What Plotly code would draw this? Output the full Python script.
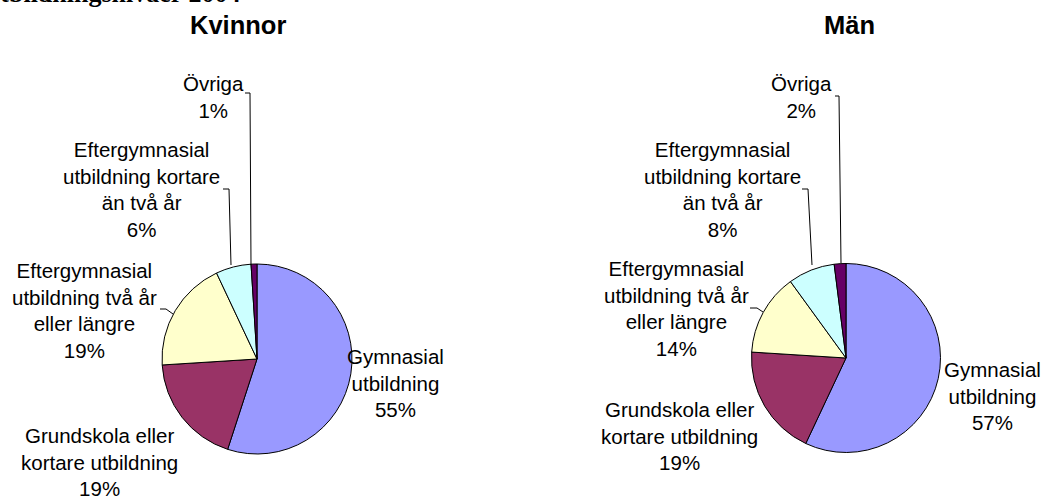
import plotly.graph_objects as go

# ---- data ----
categories = [
    "Gymnasial utbildning",
    "Grundskola eller kortare utbildning",
    "Eftergymnasial utbildning två år eller längre",
    "Eftergymnasial utbildning kortare än två år",
    "Övriga",
]
label_lines = [
    "Gymnasial<br>utbildning",
    "Grundskola eller<br>kortare utbildning",
    "Eftergymnasial<br>utbildning två år<br>eller längre",
    "Eftergymnasial<br>utbildning kortare<br>än två år",
    "Övriga",
]
kvinnor = [55, 19, 19, 6, 1]
man = [57, 19, 14, 8, 2]
colors = ["#9999FF", "#993366", "#FFFFCC", "#CCFFFF", "#660066"]
panel_titles = ["Kvinnor", "Män"]
main_title = "Befolkningen efter utbildningsnivåer 2004"

W, H = 1044, 499
FONT = "Liberation Sans, Arial, sans-serif"


def px(x):
    return x / W


def py(y):
    return 1 - y / H


def dom(cx, cy, r):
    return dict(x=[px(cx - r), px(cx + r)], y=[py(cy + r), py(cy - r)])


fig = go.Figure()
pies = [(kvinnor, (257, 359, 95)), (man, (846, 358, 94.5))]
for vals, (cx, cy, r) in pies:
    fig.add_trace(go.Pie(
        labels=categories, values=vals, sort=False, direction="clockwise",
        rotation=0, marker=dict(colors=colors, line=dict(color="black", width=1)),
        textinfo="none", hoverinfo="skip", showlegend=False,
        domain=dom(cx, cy, r),
    ))

# label centres (pixels) per panel, in category order
label_pos = [
    [(395, 383), (99, 462), (85, 310), (141, 190), (213, 97)],
    [(992, 396), (680, 436), (676, 308), (722, 190), (801, 97)],
]
leaders = [
    [None, None,
     [(160, 309), (166, 309), (173, 314)],
     [(223, 189), (229, 189), (231, 265)],
     [(245, 93), (250, 93), (251, 265)]],
    [None, None,
     [(750, 308), (757, 308), (763, 312)],
     [(802, 189), (808, 189), (812, 265)],
     [(835, 96), (839, 96), (841, 263)]],
]

annotations = []
shapes = []
for p, vals in enumerate([kvinnor, man]):
    for i, v in enumerate(vals):
        x, y = label_pos[p][i]
        annotations.append(dict(
            text=f"{label_lines[i]}<br>{v}%", x=px(x), y=py(y),
            xref="paper", yref="paper", xanchor="center", yanchor="middle",
            showarrow=False, align="center",
            font=dict(family=FONT, size=20.5, color="black"),
        ))
        pts = leaders[p][i]
        if pts:
            path = "M " + " L ".join(f"{px(a)},{py(b)}" for a, b in pts)
            shapes.append(dict(type="path", path=path, xref="paper", yref="paper",
                               line=dict(color="black", width=1)))

for t, x in zip(panel_titles, [238, 849]):
    annotations.append(dict(
        text=f"<b>{t}</b>", x=px(x), y=py(25), xref="paper", yref="paper",
        xanchor="center", yanchor="middle", showarrow=False,
        font=dict(family=FONT, size=25.5, color="black"),
    ))

annotations.append(dict(
    text=f"<b>{main_title}</b>", x=px(242), y=py(10), xref="paper", yref="paper",
    xanchor="right", yanchor="bottom", showarrow=False,
    font=dict(family="Liberation Serif, Times New Roman, serif", size=26, color="black"),
))

fig.update_layout(
    width=W, height=H, margin=dict(l=0, r=0, t=0, b=0),
    paper_bgcolor="white", plot_bgcolor="white",
    annotations=annotations, shapes=shapes,
)
fig.write_html(
    "out.html",
    config={"displayModeBar": False},
    post_script="document.body.style.margin='0';document.body.style.overflow='hidden';",
)
